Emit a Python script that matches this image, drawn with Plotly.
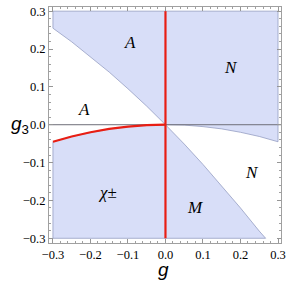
import plotly.graph_objects as go

# Boundary A / white (diagonal curve)
diag_g = [-0.3, -0.25, -0.2, -0.15, -0.1, -0.05, 0.0, 0.05, 0.1, 0.15, 0.2, 0.25, 0.267]
diag_g3 = [0.255, 0.219, 0.18, 0.139, 0.095, 0.049, 0.0, -0.051, -0.105, -0.161, -0.22, -0.281, -0.3]

# Red curve (g<0)
red_g = [-0.3, -0.25, -0.2, -0.15, -0.1, -0.05, 0.0]
red_g3 = [-0.045, -0.031, -0.02, -0.011, -0.005, -0.001, 0.0]

# N / white boundary (g>0)
nb_g = [0.0, 0.05, 0.1, 0.15, 0.2, 0.25, 0.3]
nb_g3 = [0.0, -0.001, -0.005, -0.011, -0.02, -0.031, -0.045]

# Region labels
lab_text = ["<i>A</i>", "<i>N</i>", "<i>A</i>", "<i>N</i>", "<i>χ</i>±", "<i>M</i>"]
lab_g = [-0.094, 0.175, -0.217, 0.232, -0.155, 0.078]
lab_g3 = [0.216, 0.15, 0.039, -0.126, -0.178, -0.218]

xticks = [-0.3, -0.2, -0.1, 0.0, 0.1, 0.2, 0.3]
yticks = [-0.3, -0.2, -0.1, 0.0, 0.1, 0.2, 0.3]

fill_col = "rgb(216,222,248)"
edge_col = "rgb(150,158,195)"
red = "rgb(232,30,20)"
serif = "Liberation Serif, Times New Roman, serif"

fig = go.Figure()

# Upper shaded region
n0 = diag_g.index(0.0)
up_x = [-0.3] + diag_g[:n0 + 1] + nb_g[1:] + [0.3, -0.3]
up_y = [0.3] + diag_g3[:n0 + 1] + nb_g3[1:] + [0.3, 0.3]
fig.add_trace(go.Scatter(x=up_x, y=up_y, mode="lines", fill="toself",
                         fillcolor=fill_col, line=dict(color=edge_col, width=0.8),
                         hoverinfo="skip", showlegend=False))

# Lower shaded region
lo_x = [-0.3] + red_g + diag_g[n0 + 1:] + [-0.3]
lo_y = [-0.3] + red_g3 + diag_g3[n0 + 1:] + [-0.3]
fig.add_trace(go.Scatter(x=lo_x, y=lo_y, mode="lines", fill="toself",
                         fillcolor=fill_col, line=dict(color=edge_col, width=0.8),
                         hoverinfo="skip", showlegend=False))

# horizontal axis line at g3 = 0
fig.add_trace(go.Scatter(x=[-0.312, 0.31], y=[0, 0], mode="lines",
                         line=dict(color="rgb(110,110,120)", width=1),
                         hoverinfo="skip", showlegend=False))

# red curves
fig.add_trace(go.Scatter(x=red_g, y=red_g3, mode="lines",
                         line=dict(color=red, width=2.2), showlegend=False))
fig.add_trace(go.Scatter(x=[0, 0], y=[-0.3, 0.3], mode="lines",
                         line=dict(color=red, width=2.2), showlegend=False))

for t, gx, gy in zip(lab_text, lab_g, lab_g3):
    fig.add_annotation(x=gx, y=gy, text=t, showarrow=False,
                       font=dict(family=serif, size=17, color="black"))

axis_common = dict(
    showgrid=False, zeroline=False, showline=True, linecolor="rgb(160,160,160)",
    linewidth=1, mirror="ticks", ticks="inside", ticklen=4, tickcolor="rgb(150,150,150)",
    tickformat=".1f", tickfont=dict(family=serif, size=12.5, color="black"),
    minor=dict(ticks="inside", ticklen=2, dtick=0.02, tickcolor="rgb(160,160,160)"),
)

fig.update_xaxes(range=[-0.3105, 0.308], tickvals=xticks, **axis_common)
fig.update_yaxes(range=[-0.3125, 0.311], tickvals=yticks, **axis_common)

fig.add_annotation(xref="paper", yref="paper", x=0.495, y=-0.113, yanchor="middle",
                   text="<i>g</i>", showarrow=False,
                   font=dict(family="Liberation Sans", size=19, color="black"))
fig.add_annotation(xref="paper", yref="paper", x=-0.125, y=0.5, xanchor="center",
                   text="<i>g</i><sub>3</sub>", showarrow=False,
                   font=dict(family="Liberation Sans", size=19, color="black"))

fig.update_layout(width=291, height=281,
                  margin=dict(l=49, r=5, t=6, b=38),
                  paper_bgcolor="white", plot_bgcolor="white")

fig.write_html("out.html", config={"displayModeBar": False},
               post_script="document.body.style.margin='0px';")
